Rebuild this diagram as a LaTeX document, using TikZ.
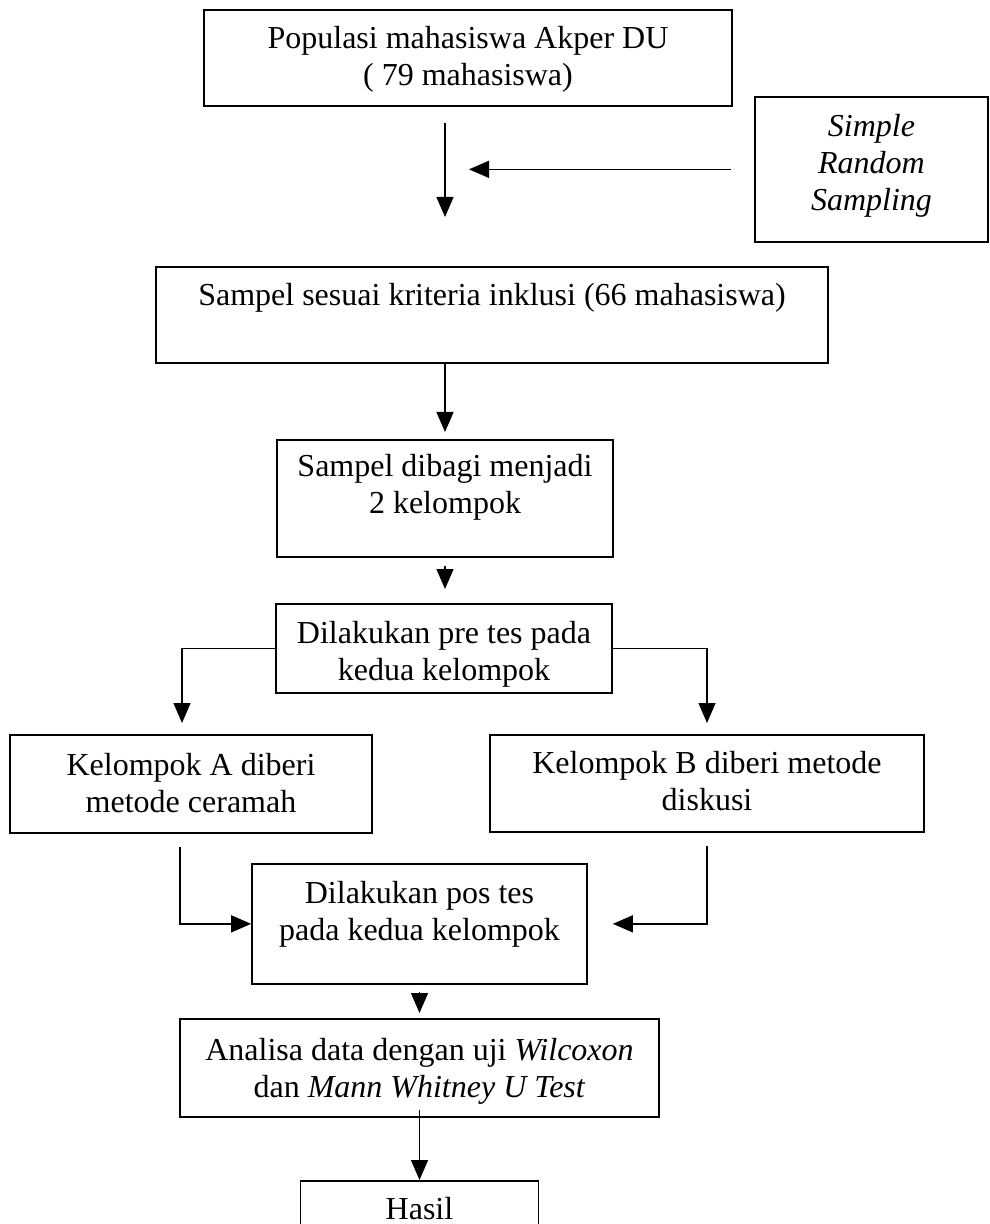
\documentclass[tikz,border=0pt]{standalone}
\usepackage{fontspec}
\setmainfont{Liberation Serif}
\usetikzlibrary{arrows.meta}
\tikzset{kotak/.style={draw, line width=0.85pt, inner sep=0pt, anchor=north, align=center,
  font=\fontsize{16}{18.5}\selectfont}}

\begin{document}
\begin{tikzpicture}[x=0.5pt, y=-0.5pt, >={Triangle[length=10pt,width=8.5pt]}, line width=0.7pt]
\useasboundingbox (0,0) rectangle (989,1224);
% kotak
\node[kotak, minimum width=264pt, text height=38pt, text depth=10pt] (populasi) at (468,9) {Populasi mahasiswa Akper DU\\( 79 mahasiswa)};
\node[kotak, minimum width=116.5pt, text height=57pt, text depth=15.5pt] (sampling) at (871.5,96) {\textit{Simple}\\\textit{Random}\\\textit{Sampling}};
\node[kotak, minimum width=336pt, text height=19.5pt, text depth=28.5pt] (sampel) at (492,266) {Sampel sesuai kriteria inklusi (66 mahasiswa)};
\node[kotak, minimum width=168pt, text height=37pt, text depth=21.5pt] (bagi) at (445,439) {Sampel dibagi menjadi\\2 kelompok};
\node[kotak, minimum width=168pt, text height=38.5pt, text depth=6pt] (pretes) at (444,603) {Dilakukan pre tes pada\\kedua kelompok};
\node[kotak, minimum width=181pt, text height=39pt, text depth=10pt] (kelA) at (191,734) {Kelompok A diberi\\metode ceramah};
\node[kotak, minimum width=217pt, text height=38pt, text depth=10.5pt] (kelB) at (707,734) {Kelompok B diberi metode\\diskusi};
\node[kotak, minimum width=167.5pt, text height=38.5pt, text depth=21.5pt] (postes) at (419.5,863) {Dilakukan pos tes\\pada kedua kelompok};
\node[kotak, minimum width=239.5pt, text height=39.5pt, text depth=9.5pt] (analisa) at (419.5,1018) {Analisa data dengan uji \textit{Wilcoxon}\\dan \textit{Mann Whitney U Test}};
\node[kotak, minimum width=119pt, text height=19.5pt, text depth=25.5pt] (hasil) at (419.5,1180) {Hasil};
% panah
\draw[->, shorten <=8pt, shorten >=24.5pt] (populasi.south -| bagi.north) -- (sampel.north -| bagi.north);
\draw[->, shorten <=11.5pt, shorten >=12pt] (sampling.west) -- (sampling.west -| bagi.north);
\draw[->, shorten >=3.5pt] (sampel.south -| bagi.north) -- (bagi.north);
\draw[->, shorten <=4pt, shorten >=7pt] (bagi.south) -- (bagi.south |- pretes.north);
\draw[->, shorten >=5.5pt] (pretes.west) -| ([xshift=-4.5pt]kelA.north);
\draw[->, shorten >=5.5pt] (pretes.east) -| (kelB.north);
\draw[->, shorten <=6.5pt] ([xshift=-5.5pt]kelA.south) |- (postes.west);
\draw[->, shorten <=6.5pt, shorten >=12.5pt] (kelB.south) |- (postes.east);
\draw[->, shorten <=3.5pt, shorten >=2.5pt] (postes.south) -- (analisa.north);
\draw[->, shorten <=-4pt] (analisa.south) -- (hasil.north);
\end{tikzpicture}
\end{document}
